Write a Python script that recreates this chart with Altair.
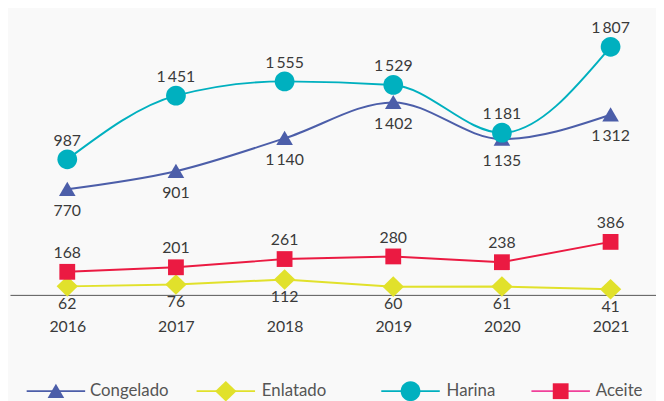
import altair as alt
import pandas as pd

years = [2016, 2017, 2018, 2019, 2020, 2021]
congelado = [770, 901, 1140, 1402, 1135, 1312]
enlatado = [62, 76, 112, 60, 61, 41]
harina = [987, 1451, 1555, 1529, 1181, 1807]
aceite = [168, 201, 261, 280, 238, 386]
series_names = ["Congelado", "Enlatado", "Harina", "Aceite"]
series_colors = ["#4c5ea9", "#e1e12b", "#00b0bf", "#eb1a42"]
legend_line_colors = ["#4c5ea9", "#e1e12b", "#00b0bf", "#f0409a"]

TRI = "M0,-0.95L1.05,0.85L-1.05,0.85Z"
DIA = "M0,-1.3L1.35,0L0,1.3L-1.35,0Z"
CIR = "M-1.25,0A1.25,1.25,0,1,1,1.25,0A1.25,1.25,0,1,1,-1.25,0Z"
SQ = "M-1,-1H1V1H-1Z"
LINE = "M-3.7,-0.11H3.7V0.11H-3.7Z"
shapes = [TRI, DIA, CIR, SQ]

# legend placement (style): x of each legend entry and label offsets
legend_x = [38, 210, 397, 549]
legend_label_offset = [26, 28, 28, 27]
LEGEND_Y = 377

rows = []
for name, vals in zip(series_names, [congelado, enlatado, harina, aceite]):
    for yr, v in zip(years, vals):
        rows.append({"year": yr, "serie": name, "value": v,
                     "label": f"{v:,}".replace(",", "\u2009")})
df = pd.DataFrame(rows)

FONT = "Lato"
TXT = "#3a3a3a"
LEG_TXT = "#555555"

x = alt.X("year:Q",
          scale=alt.Scale(domain=[2015.4727, 2021.418], nice=False, zero=False),
          axis=alt.Axis(values=years, format="d", title=None, ticks=False, grid=False,
                        labelPadding=24, domainColor="#555555", domainWidth=1,
                        labelFontSize=16, labelColor=TXT, labelFont=FONT,
                        labelFlush=False, labelOverlap=False))
y = alt.Y("value:Q", scale=alt.Scale(domain=[0, 2072], nice=False), axis=None)

cscale = alt.Scale(domain=series_names, range=series_colors)
color_nolegend = alt.Color("serie:N", scale=cscale, legend=None)

base = alt.Chart(df)

smooth = base.transform_filter(
    alt.FieldOneOfPredicate(field="serie", oneOf=["Congelado", "Harina"])
).mark_line(interpolate="monotone", strokeWidth=2).encode(x=x, y=y, color=color_nolegend, detail="serie:N")

straight = base.transform_filter(
    alt.FieldOneOfPredicate(field="serie", oneOf=["Enlatado", "Aceite"])
).mark_line(strokeWidth=2).encode(x=x, y=y, color=color_nolegend, detail="serie:N")

points = base.mark_point(filled=True, size=256, opacity=1, strokeWidth=0).encode(
    x=x, y=y, color=color_nolegend,
    shape=alt.Shape("serie:N", scale=alt.Scale(domain=series_names, range=shapes), legend=None),
)


def legend_layer(name, col, path, lx, lo, label_color):
    spec = alt.Legend(
        title=None, orient="none", legendX=lx, legendY=LEGEND_Y, direction="horizontal",
        symbolSize=256, labelOffset=lo, labelFontSize=17, labelFont=FONT, labelColor=label_color,
        padding=0, symbolStrokeWidth=0, symbolOpacity=1,
    )
    return base.transform_filter("false").mark_point(filled=True, size=256, opacity=1, strokeWidth=0).encode(
        x=x, y=y,
        color=alt.Color("serie:N", scale=alt.Scale(domain=[name], range=[col]), legend=spec),
        shape=alt.Shape("serie:N", scale=alt.Scale(domain=[name], range=[path]), legend=spec),
    )


# empty layers that only produce legend entries: a line part and a marker part per series
legend_layers = []
for name, col, lcol, shp, lx, lo in zip(series_names, series_colors, legend_line_colors,
                                        shapes, legend_x, legend_label_offset):
    legend_layers.append(legend_layer(name, lcol, LINE, lx, lo, "rgba(0,0,0,0)"))
for name, col, lcol, shp, lx, lo in zip(series_names, series_colors, legend_line_colors,
                                        shapes, legend_x, legend_label_offset):
    legend_layers.append(legend_layer(name, col, shp, lx, lo, LEG_TXT))

above = base.transform_filter(
    alt.FieldOneOfPredicate(field="serie", oneOf=["Harina", "Aceite"])
).mark_text(dy=-19, baseline="middle", fontSize=16, font=FONT, color=TXT).encode(x=x, y=y, text="label:N")

below_c = base.transform_filter(
    alt.FieldEqualPredicate(field="serie", equal="Congelado")
).mark_text(dy=22, baseline="middle", fontSize=16, font=FONT, color=TXT).encode(x=x, y=y, text="label:N")

below_e = base.transform_filter(
    alt.FieldEqualPredicate(field="serie", equal="Enlatado")
).mark_text(dy=18, baseline="middle", fontSize=16, font=FONT, color=TXT).encode(x=x, y=y, text="label:N")

chart = alt.layer(straight, smooth, points, *legend_layers, above, below_c, below_e).resolve_scale(
    shape="independent", color="independent"
).properties(
    width=654, height=288,
    padding={"left": 2, "top": 0, "right": 0, "bottom": 105},
    autosize=alt.AutoSizeParams(type="none"),
    background="#f9f9f9",
).configure_view(stroke=None)

chart.save("out.html", embed_options={"renderer": "svg", "actions": False})
